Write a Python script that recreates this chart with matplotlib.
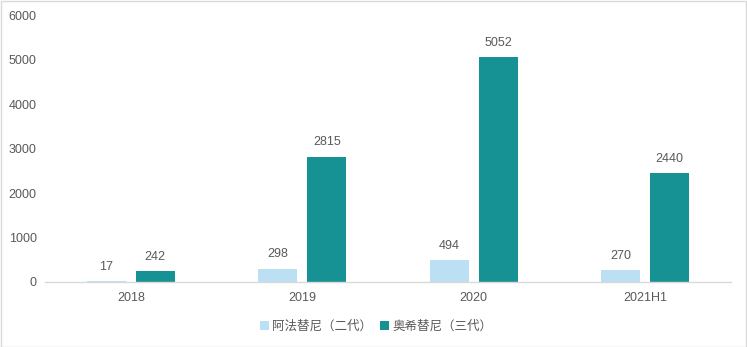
import matplotlib
matplotlib.use("Agg")
import matplotlib.pyplot as plt
import numpy as np
from matplotlib.patches import Rectangle

plt.rcParams['font.family'] = ['Noto Sans CJK SC', 'DejaVu Sans']

categories = ["2018", "2019", "2020", "2021H1"]
gen2 = [17, 298, 494, 270]
gen3 = [242, 2815, 5052, 2440]
series_names = ["阿法替尼（二代）", "奥希替尼（三代）"]
colors = ["#BBDFF3", "#169194"]
text_color = "#595959"

fig = plt.figure(figsize=(7.47, 3.47), dpi=100)
ax = fig.add_axes([45/747, 1-282/347, (731-45)/747, (282-15)/347])

x = np.arange(len(categories))
w = 0.227
off = 0.143
b1 = ax.bar(x - off, gen2, w, color=colors[0], label=series_names[0])
b2 = ax.bar(x + off, gen3, w, color=colors[1], label=series_names[1])

for bars, vals in ((b1, gen2), (b2, gen3)):
    for r, v in zip(bars, vals):
        ax.annotate(str(v), (r.get_x() + r.get_width()/2, v), xytext=(0, 6),
                    textcoords="offset points", ha="center", va="bottom",
                    fontsize=9, color=text_color, family="Liberation Sans")

ax.set_xlim(-0.5, len(categories) - 0.5)
ax.set_ylim(0, 6000)
ax.set_yticks(range(0, 6001, 1000))
ax.set_xticks(x)
ax.set_xticklabels(categories)
for lab in ax.get_xticklabels() + ax.get_yticklabels():
    lab.set_family("Liberation Sans")
    lab.set_fontsize(9)
    lab.set_color(text_color)
ax.tick_params(axis='both', length=0)
ax.tick_params(axis='y', pad=6)
ax.tick_params(axis='x', pad=7)
for s in ["top", "right", "left"]:
    ax.spines[s].set_visible(False)
ax.spines["bottom"].set_color("#D9D9D9")
ax.spines["bottom"].set_linewidth(1)

leg = fig.legend(loc="center", bbox_to_anchor=(376/747, 1-326/347), ncol=2, frameon=False,
                 fontsize=9, handlelength=0.7, handleheight=0.7, handletextpad=0.3,
                 columnspacing=0.6, labelcolor=text_color)

fig.add_artist(Rectangle((0.5/747, 0.5/347), 1-1.5/747, 1-1.5/347, transform=fig.transFigure,
                         fill=False, edgecolor="#D9D9D9", linewidth=1))

fig.savefig("out.png", dpi=100)
